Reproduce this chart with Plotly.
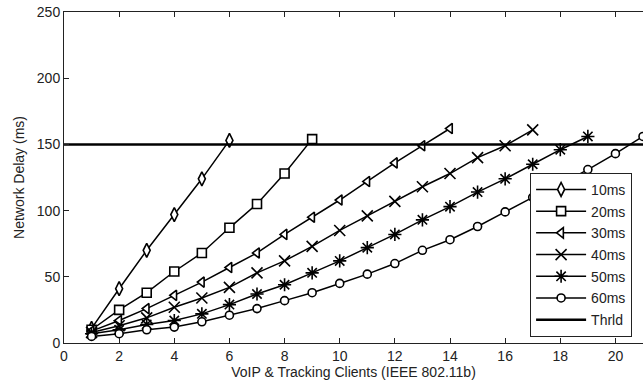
import plotly.graph_objects as go

clients_10 = [1, 2, 3, 4, 5, 6]
delay_10 = [11, 41, 70, 97, 124, 153]

clients_20 = [1, 2, 3, 4, 5, 6, 7, 8, 9]
delay_20 = [10, 25, 38, 54, 68, 87, 105, 128, 154]

clients_30 = list(range(1, 15))
delay_30 = [9, 17, 26, 36, 46, 57, 68, 82, 95, 108, 122, 136, 149, 162]

clients_40 = list(range(1, 18))
delay_40 = [8, 13, 19, 27, 34, 42, 53, 62, 73, 85, 96, 107, 118, 128, 140, 149, 161]

clients_50 = list(range(1, 20))
delay_50 = [7, 10, 14, 17, 22, 29, 37, 44, 53, 62, 72, 82, 93, 103, 114, 124, 135, 146, 156]

clients_60 = list(range(1, 22))
delay_60 = [5, 7, 10, 12, 16, 21, 26, 32, 38, 45, 52, 60, 70, 78, 88, 99, 110, 120, 131, 143, 156]

threshold_x = [0, 21]
threshold_y = [150, 150]

series = [
    ("10ms", clients_10, delay_10, "diamond-tall", 10, "white"),
    ("20ms", clients_20, delay_20, "square", 9, "white"),
    ("30ms", clients_30, delay_30, "triangle-left", 9, "white"),
    ("40ms", clients_40, delay_40, "x-thin-open", 11, "black"),
    ("50ms", clients_50, delay_50, "asterisk-open", 11, "black"),
    ("60ms", clients_60, delay_60, "circle", 8, "white"),
]

fig = go.Figure()
for name, xs, ys, sym, size, fill in series:
    fig.add_trace(go.Scatter(
        x=xs, y=ys, name=name, mode="lines+markers", legendgroup=name,
        line=dict(color="black", width=1.5),
        marker=dict(symbol=sym, size=size, color=fill,
                    line=dict(color="black", width=1.6)),
    ))

fig.add_trace(go.Scatter(
    x=threshold_x, y=threshold_y, name="Thrld", mode="lines", legendgroup="Thrld",
    line=dict(color="black", width=2.5),
))

font = "Liberation Sans, Arial, sans-serif"
fig.update_layout(
    width=643, height=387,
    margin=dict(l=64, r=0, t=12, b=44),
    paper_bgcolor="white", plot_bgcolor="white",
    font=dict(family=font, size=14, color="#222"),
    legend=dict(x=0.805, y=0.514, xanchor="left", yanchor="top",
                bgcolor="white", bordercolor="#222", borderwidth=1,
                font=dict(size=14, color="#222"), tracegroupgap=0.5,
                itemwidth=50, itemclick=False),
    showlegend=True,
)
fig.update_xaxes(
    range=[0, 21], tickvals=list(range(0, 21, 2)),
    showline=True, linecolor="#222", linewidth=1, mirror="ticks",
    ticks="inside", ticklen=5, tickcolor="#222", showgrid=False, zeroline=False,
    title=dict(text="VoIP & Tracking Clients (IEEE 802.11b)", font=dict(size=14), standoff=4),
)
fig.update_yaxes(
    range=[0, 250], tickvals=list(range(0, 251, 50)),
    showline=True, linecolor="#222", linewidth=1,
    ticks="inside", ticklen=5, tickcolor="#222", showgrid=False, zeroline=False,
    title=dict(text="Network Delay (ms)", font=dict(size=14), standoff=8),
)

fig.write_html("out.html")
